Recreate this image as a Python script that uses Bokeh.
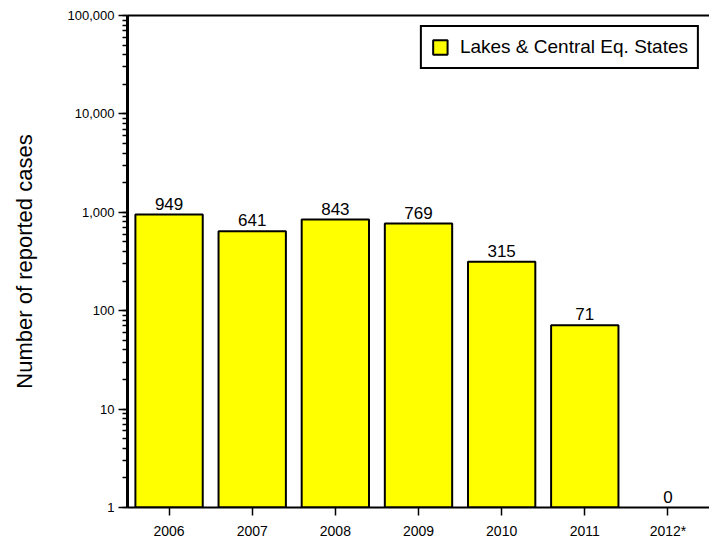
from bokeh.plotting import figure
from bokeh.models import (ColumnDataSource, Range1d, FactorRange, NumeralTickFormatter,
                          LinearAxis, Legend, LegendItem, LabelSet, FixedTicker)
from bokeh.core.properties import value
from bokeh.embed import file_html
from bokeh.resources import INLINE

years = ["2006", "2007", "2008", "2009", "2010", "2011", "2012*"]
cases = [949, 641, 843, 769, 315, 71, 0]
series_name = "Lakes & Central Eq. States"
y_title = "Number of reported cases"

FONT = "Liberation Sans"

tops = [c if c > 0 else 1 for c in cases]
src = ColumnDataSource(dict(x=years, top=tops, label=[str(c) for c in cases],
                            la=[1 if c > 0 else 0 for c in cases]))

p = figure(width=709, height=541, x_range=FactorRange(*years, range_padding=0),
           y_range=Range1d(1, 100000), y_axis_type="log",
           output_backend="svg", toolbar_location=None,
           min_border_left=127, min_border_right=0, min_border_top=15, min_border_bottom=32)
p.outline_line_color = None
p.xgrid.visible = False
p.ygrid.visible = False
p.background_fill_color = "white"
p.border_fill_color = "white"

r = p.vbar(x="x", top="top", bottom=1, width=0.81, source=src,
           fill_color="#ffff00", line_color="black", line_width=2, line_alpha="la")

labels = LabelSet(x="x", y="top", text="label", source=src, text_align="center",
                  text_baseline="bottom", y_offset=5, text_font=value(FONT),
                  text_font_size="17px", text_color="black")
p.add_layout(labels)

# axes
ya = p.yaxis[0]
ya.formatter = NumeralTickFormatter(format="0,0")
ya.axis_line_width = 3
ya.axis_line_color = "black"
ya.major_tick_out = 9
ya.major_tick_in = 0
ya.minor_tick_out = 5
ya.minor_tick_in = 0
ya.major_tick_line_width = 1.5
ya.minor_tick_line_width = 1.5
ya.major_label_text_font = FONT
ya.major_label_text_font_size = "13px"
ya.major_label_text_color = "black"
ya.major_label_standoff = 4
ya.axis_label = y_title
ya.axis_label_text_font = FONT
ya.axis_label_text_font_size = "22px"
ya.axis_label_text_font_style = "normal"
ya.axis_label_text_color = "black"
ya.axis_label_standoff = 28

xa = p.xaxis[0]
xa.axis_line_width = 2
xa.axis_line_color = "black"
xa.major_tick_out = 8
xa.major_tick_in = 0
xa.major_tick_line_width = 1.5
xa.major_label_text_font = FONT
xa.major_label_text_font_size = "14px"
xa.major_label_text_color = "black"
xa.major_label_standoff = 7

top_axis = LinearAxis(axis_line_width=2, axis_line_color="black",
                      ticker=FixedTicker(ticks=[]),
                      major_tick_line_color=None, minor_tick_line_color=None)
p.add_layout(top_axis, "above")
p.min_border_top = 15

legend = Legend(items=[LegendItem(label=series_name, renderers=[r])],
                location="top_right", margin=10, padding=9, spacing=0,
                glyph_width=18, glyph_height=18, label_standoff=11,
                label_text_font=FONT, label_text_font_size="19px",
                label_text_color="black", label_height=20,
                border_line_color="black", border_line_width=2, border_line_alpha=1,
                background_fill_alpha=1)
legend.padding = 9
p.add_layout(legend)

open("out.html", "w").write(file_html(p, INLINE))
